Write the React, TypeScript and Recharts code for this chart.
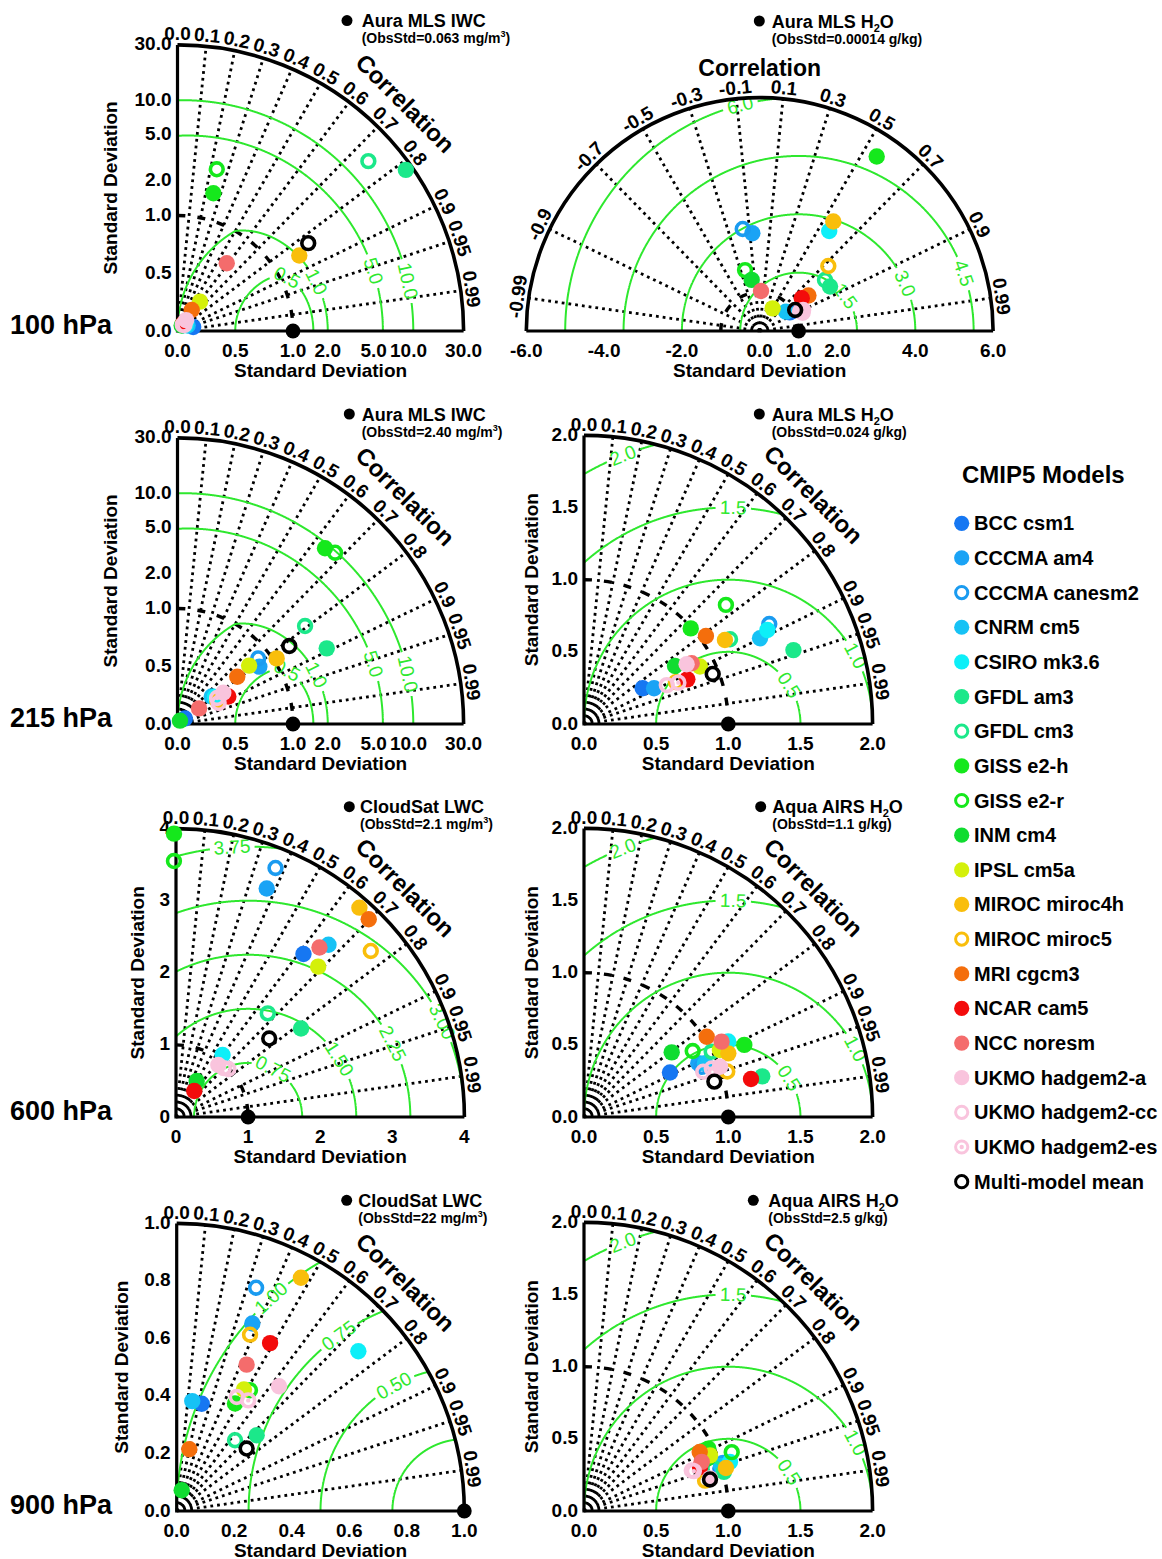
import React from "react";
import { ScatterChart, Scatter, XAxis, YAxis, Customized } from "recharts";

const FONT = "'Liberation Sans', Arial, Helvetica, sans-serif";
const GREEN = "#2ee82e";

const modelNames = [
  "BCC csm1", "CCCMA am4", "CCCMA canesm2", "CNRM cm5", "CSIRO mk3.6",
  "GFDL am3", "GFDL cm3", "GISS e2-h", "GISS e2-r", "INM cm4",
  "IPSL cm5a", "MIROC miroc4h", "MIROC miroc5", "MRI cgcm3", "NCAR cam5",
  "NCC noresm", "UKMO hadgem2-a", "UKMO hadgem2-cc", "UKMO hadgem2-es", "Multi-model mean",
];
const modelColors = [
  "#1677f2", "#1aa3f5", "#1a9bf0", "#16c2f5", "#0deff8",
  "#1be88a", "#1be88a", "#15e81c", "#15e81c", "#10dc30",
  "#d4f00a", "#f9be0b", "#f9be0b", "#f46e0c", "#f30b0b",
  "#f46c6c", "#f9c4dd", "#f9c4dd", "#f9c4dd", "#000000",
];
const modelMarks = [
  "fill", "fill", "ring", "fill", "fill",
  "fill", "ring", "fill", "ring", "fill",
  "fill", "fill", "ring", "fill", "fill",
  "fill", "fill", "ring", "dot", "ring",
];

// [normalised standard deviation, correlation] per model, legend order
const iwc100 = [
  [0.14, 0.97], [0.08, 0.72], [0.07, 0.7], [0.1, 0.88], [0.09, 0.8],
  [26.3, 0.817], [16.3, 0.747], [1.71, 0.252], [2.76, 0.236], [0.06, 0.6],
  [0.32, 0.608], [1.74, 0.85], [0.08, 0.62], [0.22, 0.56], [0.08, 0.62],
  [0.725, 0.588], [0.12, 0.62], [0.08, 0.75], [0.07, 0.65], [2.31, 0.83],
];
const h2o100 = [
  [0.91, 0.85], [2.52, -0.075], [2.66, -0.164], [0.84, 0.805], [3.13, 0.571],
  [2.14, 0.845], [2.13, 0.788], [5.4, 0.557], [1.61, -0.234], [1.33, -0.155],
  [0.67, 0.496], [3.39, 0.558], [2.43, 0.726], [1.55, 0.808], [1.37, 0.789],
  [1.03, 0.033], [1.24, 0.9], [1.15, 0.9], [1.2, 0.92], [1.06, 0.86],
];
const iwc215 = [
  [0.08, 0.8], [0.865, 0.819], [0.9, 0.776], [0.38, 0.78], [0.4, 0.81],
  [2.81, 0.892], [2.47, 0.793], [9.69, 0.643], [10.35, 0.677], [0.036, 0.6],
  [0.8, 0.775], [1.07, 0.834], [0.4, 0.86], [0.66, 0.784], [0.5, 0.88],
  [0.23, 0.81], [0.48, 0.826], [0.4, 0.89], [0.41, 0.836], [1.514, 0.82],
];
const h2o215 = [
  [0.476, 0.854], [0.545, 0.891], [1.459, 0.88], [1.357, 0.899], [1.428, 0.89],
  [1.539, 0.943], [1.17, 0.865], [0.993, 0.745], [1.284, 0.766], [0.748, 0.843],
  [0.897, 0.896], [1.137, 0.859], [0.7, 0.91], [1.042, 0.811], [0.78, 0.918],
  [0.857, 0.871], [0.823, 0.864], [0.634, 0.905], [0.714, 0.916], [0.957, 0.932],
];
const lwc600 = [
  [2.87, 0.616], [3.41, 0.369], [3.72, 0.371], [3.19, 0.663], [1.076, 0.6],
  [2.125, 0.816], [1.92, 0.663], [3.93, -0.007], [3.55, -0.008], [0.576, 0.498],
  [2.87, 0.687], [3.86, 0.659], [3.55, 0.761], [3.83, 0.698], [0.44, 0.576],
  [3.08, 0.646], [0.93, 0.631], [0.985, 0.737], [0.95, 0.7], [1.69, 0.765],
];
const h2o600 = [
  [0.671, 0.888], [0.875, 0.905], [0.887, 0.92], [0.917, 0.914], [1.128, 0.886],
  [1.267, 0.975], [0.994, 0.89], [1.218, 0.912], [0.881, 0.855], [0.755, 0.805],
  [1.05, 0.897], [1.093, 0.915], [1.042, 0.953], [1.016, 0.837], [1.187, 0.975],
  [1.087, 0.877], [1.005, 0.938], [0.884, 0.935], [0.947, 0.935], [0.936, 0.965],
];
const lwc900 = [
  [0.383, 0.227], [0.703, 0.374], [0.824, 0.335], [0.386, 0.14], [0.841, 0.751],
  [0.383, 0.726], [0.319, 0.636], [0.425, 0.477], [0.491, 0.519], [0.074, 0.235],
  [0.483, 0.484], [0.919, 0.47], [0.664, 0.384], [0.219, 0.2], [0.668, 0.486],
  [0.564, 0.431], [0.561, 0.634], [0.448, 0.466], [0.458, 0.543], [0.326, 0.746],
];
const h2o900 = [
  [0.99, 0.955], [1.02, 0.945], [1.04, 0.948], [1.0, 0.95], [1.067, 0.948],
  [1.007, 0.963], [0.95, 0.95], [0.964, 0.894], [1.102, 0.929], [0.93, 0.92],
  [0.955, 0.915], [1.028, 0.957], [0.865, 0.97], [0.9, 0.891], [0.86, 0.935],
  [0.884, 0.923], [0.902, 0.968], [0.798, 0.936], [0.81, 0.94], [0.9, 0.97],
];

const corrQuarter = [0, 0.1, 0.2, 0.3, 0.4, 0.5, 0.6, 0.7, 0.8, 0.9, 0.95, 0.99];
const corrQuarterLabels = ["0.0", "0.1", "0.2", "0.3", "0.4", "0.5", "0.6", "0.7", "0.8", "0.9", "0.95", "0.99"];
const corrHalf = [-0.99, -0.9, -0.7, -0.5, -0.3, -0.1, 0.1, 0.3, 0.5, 0.7, 0.9, 0.99];
const corrHalfLabels = ["-0.99", "-0.9", "-0.7", "-0.5", "-0.3", "-0.1", "0.1", "0.3", "0.5", "0.7", "0.9", "0.99"];

const sdTicksIwc = [0, 0.5, 1, 2, 5, 10, 30];
const sdLabelsIwc = ["0.0", "0.5", "1.0", "2.0", "5.0", "10.0", "30.0"];
const sdTicksHalf = [-6, -4, -2, 0, 1, 2, 4, 6];
const sdLabelsHalf = ["-6.0", "-4.0", "-2.0", "0.0", "1.0", "2.0", "4.0", "6.0"];
const sdTicksH2O = [0, 0.5, 1, 1.5, 2];
const sdLabelsH2O = ["0.0", "0.5", "1.0", "1.5", "2.0"];
const sdTicks600 = [0, 1, 2, 3, 4];
const sdLabels600 = ["0", "1", "2", "3", "4"];
const sdTicks900 = [0, 0.2, 0.4, 0.6, 0.8, 1.0];
const sdLabels900 = ["0.0", "0.2", "0.4", "0.6", "0.8", "1.0"];

const rmsIwc = [0.5, 1, 5, 10];
const rmsIwcLabels = ["0.5", "1.0", "5.0", "10.0"];
const rmsH2O100 = [1.5, 3, 4.5, 6];
const rmsH2O100Labels = ["1.5", "3.0", "4.5", "6.0"];
const rmsH2O = [0.5, 1, 1.5, 2];
const rmsH2OLabels = ["0.5", "1.0", "1.5", "2.0"];
const rms600 = [0.75, 1.5, 2.25, 3, 3.75];
const rms600Labels = ["0.75", "1.50", "2.25", "3.00", "3.75"];
const rms900 = [0.25, 0.5, 0.75, 1];
const rms900Labels = ["", "0.50", "0.75", "1.00"];

type Panel = {
  ox: number; oy: number; k: number; log: boolean; half: boolean; rMax: number;
  left: number; top: number; width: number; height: number;
  data: number[][];
  sdTicks: number[]; sdLabels: string[];
  corr: number[]; corrLabels: string[];
  rms: number[]; rmsLabels: string[]; rmsAt: number[];
  title: string; obsStd: string; unit: string;
  dotX: number; dotY: number; textX: number;
  yLabelX?: number; pressure?: string;
};

const T = (s: number, log: boolean) => (log && s > 1 ? 1 + Math.log10(s) : s);

const leftBox = (oy: number) => ({ left: 0, top: oy - 330, width: 520, height: 392 });
const rightBox = (oy: number) => ({ left: 500, top: oy - 330, width: 520, height: 392 });

const panels: Panel[] = [
  {
    ox: 177.5, oy: 330.7, k: 115.5, log: true, half: false, rMax: 30, ...leftBox(330.7),
    data: iwc100, sdTicks: sdTicksIwc, sdLabels: sdLabelsIwc, corr: corrQuarter, corrLabels: corrQuarterLabels,
    rms: rmsIwc, rmsLabels: rmsIwcLabels, rmsAt: [87.5, 39, 20.4, 13.5],
    title: "Aura MLS IWC", obsStd: "0.063", unit: "mg/m3", dotX: 347, dotY: 20.3, textX: 361.7,
    yLabelX: 111, pressure: "100 hPa",
  },
  {
    ox: 759.7, oy: 330.7, k: 38.9, log: false, half: true, rMax: 6, ...rightBox(330.7),
    data: h2o100, sdTicks: sdTicksHalf, sdLabels: sdLabelsHalf, corr: corrHalf, corrLabels: corrHalfLabels,
    rms: rmsH2O100, rmsLabels: rmsH2O100Labels, rmsAt: [36.8, 24.1, 19.3, 104.5],
    title: "Aura MLS H2O", obsStd: "0.00014", unit: "g/kg", dotX: 759.3, dotY: 20.7, textX: 771.7,
  },
  {
    ox: 177.5, oy: 724, k: 115.5, log: true, half: false, rMax: 30, ...leftBox(724),
    data: iwc215, sdTicks: sdTicksIwc, sdLabels: sdLabelsIwc, corr: corrQuarter, corrLabels: corrQuarterLabels,
    rms: rmsIwc, rmsLabels: rmsIwcLabels, rmsAt: [87.5, 39, 20.4, 13.5],
    title: "Aura MLS IWC", obsStd: "2.40", unit: "mg/m3", dotX: 349.3, dotY: 414, textX: 361.7,
    yLabelX: 111, pressure: "215 hPa",
  },
  {
    ox: 584, oy: 724, k: 144.3, log: false, half: false, rMax: 2, ...rightBox(724),
    data: h2o215, sdTicks: sdTicksH2O, sdLabels: sdLabelsH2O, corr: corrQuarter, corrLabels: corrQuarterLabels,
    rms: rmsH2O, rmsLabels: rmsH2OLabels, rmsAt: [32.7, 28.3, 88.7, 111.4],
    title: "Aura MLS H2O", obsStd: "0.024", unit: "g/kg", dotX: 759.3, dotY: 414, textX: 771.7,
    yLabelX: 531.7,
  },
  {
    ox: 176, oy: 1117.3, k: 72.1, log: false, half: false, rMax: 4, ...leftBox(1117.3),
    data: lwc600, sdTicks: sdTicks600, sdLabels: sdLabels600, corr: corrQuarter, corrLabels: corrQuarterLabels,
    rms: rms600, rmsLabels: rms600Labels, rmsAt: [62.5, 32.5, 26.9, 26.2, 93.4],
    title: "CloudSat LWC", obsStd: "2.1", unit: "mg/m3", dotX: 349.3, dotY: 807, textX: 360,
    yLabelX: 138, pressure: "600 hPa",
  },
  {
    ox: 584, oy: 1117.3, k: 144.3, log: false, half: false, rMax: 2, ...rightBox(1117.3),
    data: h2o600, sdTicks: sdTicksH2O, sdLabels: sdLabelsH2O, corr: corrQuarter, corrLabels: corrQuarterLabels,
    rms: rmsH2O, rmsLabels: rmsH2OLabels, rmsAt: [32.7, 28.3, 88.7, 111.4],
    title: "Aqua AIRS H2O", obsStd: "1.1", unit: "g/kg", dotX: 760.7, dotY: 807, textX: 772.3,
    yLabelX: 531.7,
  },
  {
    ox: 176.7, oy: 1510.7, k: 287.6, log: false, half: false, rMax: 1, ...leftBox(1510.7),
    data: lwc900, sdTicks: sdTicks900, sdLabels: sdLabels900, corr: corrQuarter, corrLabels: corrQuarterLabels,
    rms: rms900, rmsLabels: rms900Labels, rmsAt: [0, 119.3, 125.6, 132.2],
    title: "CloudSat LWC", obsStd: "22", unit: "mg/m3", dotX: 346.7, dotY: 1200, textX: 358.3,
    yLabelX: 121.7, pressure: "900 hPa",
  },
  {
    ox: 584, oy: 1510.7, k: 144.3, log: false, half: false, rMax: 2, ...rightBox(1510.7),
    data: h2o900, sdTicks: sdTicksH2O, sdLabels: sdLabelsH2O, corr: corrQuarter, corrLabels: corrQuarterLabels,
    rms: rmsH2O, rmsLabels: rmsH2OLabels, rmsAt: [32.7, 28.3, 88.7, 111.4],
    title: "Aqua AIRS H2O", obsStd: "2.5", unit: "g/kg", dotX: 753.3, dotY: 1200, textX: 768.3,
    yLabelX: 531.7,
  },
];

const Mark = ({ cx, cy, i, big }: { cx: number; cy: number; i: number; big?: boolean }) => {
  const c = modelColors[i];
  const m = modelMarks[i];
  if (m === "fill") return <circle cx={cx} cy={cy} r={big ? 8.2 : 7.6} fill={c} />;
  return (
    <g>
      <circle cx={cx} cy={cy} r={big ? 6.4 : 6.1} fill="none" stroke={c} strokeWidth={big ? 3.6 : 3} />
      {m === "dot" && <circle cx={cx} cy={cy} r={2.2} fill={c} />}
    </g>
  );
};

const TitleText = ({ x, y, title }: { x: number; y: number; title: string }) => {
  const i = title.indexOf("H2O");
  return (
    <text x={x} y={y} fontSize={18} fontWeight="bold">
      {i < 0 ? title : title.slice(0, i) + "H"}
      {i >= 0 && <tspan dy={4} fontSize={11}>2</tspan>}
      {i >= 0 && <tspan dy={-4}>O</tspan>}
    </text>
  );
};

const SubText = ({ x, y, obsStd, unit }: { x: number; y: number; obsStd: string; unit: string }) => {
  const cube = unit.endsWith("3");
  return (
    <text x={x} y={y} fontSize={14} fontWeight="bold">
      {`(ObsStd=${obsStd} ${cube ? unit.slice(0, -1) : unit}`}
      {cube && <tspan dy={-6} fontSize={9}>3</tspan>}
      {cube ? <tspan dy={6}>)</tspan> : ")"}
    </text>
  );
};

function Decor({ p }: { p: Panel }) {
  const Rd = T(p.rMax, p.log);
  const R = Rd * p.k;
  const X0 = p.ox - p.left;
  const Y0 = p.oy - p.top;
  const toPx = (x: number, y: number): [number, number] => [X0 + x * p.k, Y0 - y * p.k];
  const realPx = (x: number, y: number) => {
    const s = Math.hypot(x, y);
    const th = Math.atan2(y, x);
    const d = T(s, p.log);
    return toPx(d * Math.cos(th), d * Math.sin(th));
  };
  const inside = (x: number, y: number) =>
    T(Math.hypot(x, y), p.log) <= Rd + 1e-9 && (p.half || x >= -1e-9);

  const radial = p.corr
    .filter((c) => p.half || c > 0)
    .map((c) => {
      const th = Math.acos(c);
      const [x, y] = toPx(Rd * Math.cos(th), Rd * Math.sin(th));
      return `M${X0},${Y0}L${x.toFixed(2)},${y.toFixed(2)}`;
    })
    .join("");

  const arc = (r: number) =>
    p.half
      ? `M${X0 - r},${Y0}A${r},${r} 0 0 1 ${X0 + r},${Y0}`
      : `M${X0},${Y0 - r}A${r},${r} 0 0 1 ${X0 + r},${Y0}`;

  const greens = p.rms.map((rho, j) => {
    const lab = p.rmsLabels[j];
    const phiL = (p.rmsAt[j] * Math.PI) / 180;
    const lp = realPx(1 + rho * Math.cos(phiL), rho * Math.sin(phiL));
    const gap = lab ? lab.length * 4.8 + 3 : 0;
    let d = "";
    let pen = false;
    const N = 1440;
    for (let i = 0; i <= N; i++) {
      const phi = (Math.PI * i) / N;
      const x = 1 + rho * Math.cos(phi);
      const y = rho * Math.sin(phi);
      const q = realPx(x, y);
      const ok = inside(x, y) && (!lab || Math.hypot(q[0] - lp[0], q[1] - lp[1]) > gap);
      if (ok) {
        d += (pen ? "L" : "M") + q[0].toFixed(2) + "," + q[1].toFixed(2);
        pen = true;
      } else pen = false;
    }
    const a = realPx(1 + rho * Math.cos(phiL - 0.01), rho * Math.sin(phiL - 0.01));
    const b = realPx(1 + rho * Math.cos(phiL + 0.01), rho * Math.sin(phiL + 0.01));
    let rot = (Math.atan2(b[1] - a[1], b[0] - a[0]) * 180) / Math.PI;
    if (rot > 90) rot -= 180;
    if (rot <= -90) rot += 180;
    return { d, lab, lp, rot };
  });

  return (
    <g fontFamily={FONT}>
      <path d={radial} stroke="#000" strokeWidth={2.8} strokeDasharray="2.8 4" fill="none" />
      {p.rMax > 1 && (
        <path d={arc(p.k)} stroke="#000" strokeWidth={3.4} strokeDasharray="8 12" fill="none" />
      )}
      {greens.map((g, j) => (
        <g key={j}>
          <path d={g.d} stroke={GREEN} strokeWidth={2} fill="none" />
          {g.lab && (
            <text
              x={g.lp[0]} y={g.lp[1]} fill={GREEN} fontSize={19} textAnchor="middle"
              dominantBaseline="central" transform={`rotate(${g.rot.toFixed(1)} ${g.lp[0]} ${g.lp[1]})`}
            >
              {g.lab}
            </text>
          )}
        </g>
      ))}
      <path d={arc(R)} stroke="#000" strokeWidth={3.6} fill="none" />
      <path
        d={p.half ? `M${X0 - R},${Y0}L${X0 + R},${Y0}` : `M${X0},${Y0 - R}L${X0},${Y0}L${X0 + R},${Y0}`}
        stroke="#000" strokeWidth={3.2} fill="none"
      />
      {p.corr.map((c, i) => {
        const th = Math.acos(c);
        const rr = R + 11;
        const x = X0 + rr * Math.cos(th);
        const y = Y0 - rr * Math.sin(th);
        return (
          <text
            key={i} x={x} y={y} fontSize={19} fontWeight="bold" textAnchor="middle" dominantBaseline="central"
            transform={`rotate(${(90 - (th * 180) / Math.PI).toFixed(1)} ${x} ${y})`}
          >
            {p.corrLabels[i]}
          </text>
        );
      })}
      {p.half ? (
        <text x={X0} y={Y0 - R - 30} fontSize={23} fontWeight="bold" textAnchor="middle" dominantBaseline="central">
          Correlation
        </text>
      ) : (
        <text
          x={X0 + (R + 36) * Math.SQRT1_2} y={Y0 - (R + 36) * Math.SQRT1_2} fontSize={24} fontWeight="bold"
          textAnchor="middle" dominantBaseline="central"
          transform={`rotate(45 ${X0 + (R + 36) * Math.SQRT1_2} ${Y0 - (R + 36) * Math.SQRT1_2})`}
        >
          Correlation
        </text>
      )}
      {p.sdTicks.map((v, i) => (
        <text
          key={"x" + i} x={X0 + Math.sign(v) * T(Math.abs(v), p.log) * p.k} y={Y0 + 19}
          fontSize={19} fontWeight="bold" textAnchor="middle" dominantBaseline="central"
        >
          {p.sdLabels[i]}
        </text>
      ))}
      {!p.half &&
        p.sdTicks.map((v, i) => (
          <text
            key={"y" + i} x={X0 - 6} y={Y0 - T(v, p.log) * p.k - 1}
            fontSize={19} fontWeight="bold" textAnchor="end" dominantBaseline="central"
          >
            {p.sdLabels[i]}
          </text>
        ))}
      <text x={p.half ? X0 : X0 + R / 2} y={Y0 + 39} fontSize={19} fontWeight="bold" textAnchor="middle" dominantBaseline="central">
        Standard Deviation
      </text>
      {p.yLabelX !== undefined && (
        <text
          x={p.yLabelX - p.left} y={Y0 - R / 2} fontSize={19} fontWeight="bold" textAnchor="middle"
          dominantBaseline="central" transform={`rotate(-90 ${p.yLabelX - p.left} ${Y0 - R / 2})`}
        >
          Standard Deviation
        </text>
      )}
      {p.pressure && (
        <text x={10 - p.left} y={Y0 + 2.5} fontSize={27} fontWeight="bold">
          {p.pressure}
        </text>
      )}
      <circle cx={p.dotX - p.left} cy={p.dotY - p.top} r={5.5} fill="#000" />
      <TitleText x={p.textX - p.left} y={p.dotY - p.top + 6.5} title={p.title} />
      <SubText x={p.textX - p.left} y={p.dotY - p.top + 22.5} obsStd={p.obsStd} unit={p.unit} />
    </g>
  );
}

function TaylorPanel({ p }: { p: Panel }) {
  const xmin = -(p.ox - p.left) / p.k;
  const xmax = (p.left + p.width - p.ox) / p.k;
  const ymax = (p.oy - p.top) / p.k;
  const ymin = -(p.top + p.height - p.oy) / p.k;
  const pts = p.data.map(([sd, r]) => {
    const d = T(sd, p.log);
    return { x: d * r, y: d * Math.sqrt(1 - r * r) };
  });
  return (
    <div style={{ position: "absolute", left: p.left, top: p.top }}>
      <ScatterChart width={p.width} height={p.height} margin={{ top: 0, right: 0, bottom: 0, left: 0 }}>
        <XAxis type="number" dataKey="x" domain={[xmin, xmax]} hide />
        <YAxis type="number" dataKey="y" domain={[ymin, ymax]} hide />
        <Customized component={<Decor p={p} />} />
        {pts.map((pt, i) => (
          <Scatter
            key={i}
            data={[pt]}
            isAnimationActive={false}
            shape={(s: any) => <Mark cx={s.cx} cy={s.cy} i={i} big />}
          />
        ))}
        <Scatter
          data={[{ x: 1, y: 0 }]}
          isAnimationActive={false}
          shape={(s: any) => <circle cx={s.cx} cy={s.cy} r={7.4} fill="#000" />}
        />
      </ScatterChart>
    </div>
  );
}

function ModelLegend() {
  const L = 940;
  const Tp = 450;
  return (
    <svg style={{ position: "absolute", left: L, top: Tp }} width={222} height={750}>
      <g fontFamily={FONT} fontWeight="bold">
        <text x={962 - L} y={482.5 - Tp} fontSize={24}>CMIP5 Models</text>
        {modelNames.map((n, i) => {
          const cy = 523.3 + 34.65 * i - Tp;
          return (
            <g key={n}>
              <Mark cx={961.7 - L} cy={cy} i={i} />
              <text x={974 - L} y={cy + 7} fontSize={20}>{n}</text>
            </g>
          );
        })}
      </g>
    </svg>
  );
}

export default function App() {
  return (
    <div style={{ position: "absolute", left: 0, top: 0, width: 1162, height: 1559, overflow: "hidden", background: "#fff" }}>
      {panels.map((p, i) => (
        <TaylorPanel key={i} p={p} />
      ))}
      <ModelLegend />
    </div>
  );
}
